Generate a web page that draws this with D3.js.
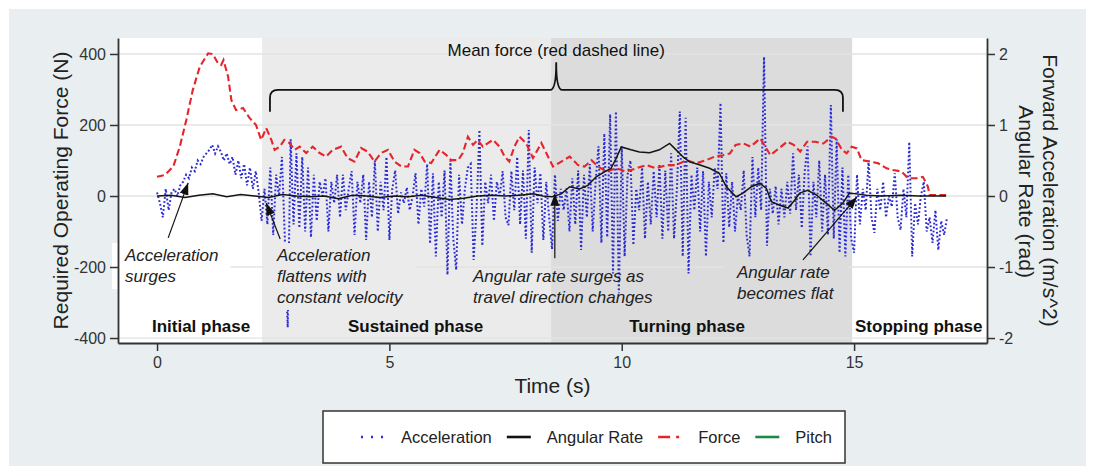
<!DOCTYPE html>
<html>
<head>
<meta charset="utf-8">
<script src="https://cdn.jsdelivr.net/npm/d3@7"></script>
<style>
  body { margin: 0; background: #fff; }
  svg { display: block; font-family: "Liberation Sans", Arial, sans-serif; }
</style>
</head>
<body>
<svg id="chart"></svg>
<script>
// ---- data ----
// forward acceleration (m/s^2), one sample every accelStep seconds from t = 0
const accelStep = 0.0625
const accel = [
    0.05, -0.1, -0.3, 0.1, -0.2, 0.05, 0.1, 0.0, 0.15, 0.2, 0.3, 0.25, 0.4, 0.35, 0.5, 0.45,
    0.55, 0.6, 0.65, 0.72, 0.6, 0.7, 0.62, 0.5, 0.6, 0.45, 0.55, 0.3, 0.5, 0.25, 0.45, 0.15,
    0.4, 0.1, 0.35, 0.05, -0.35, 0.1, -0.4, 0.4, -0.55, 0.3, 0.0, 0.55, -0.6, -1.85, 0.8, -0.4,
    0.6, -0.45, 0.55, -0.5, 0.4, -0.58, 0.3, -0.35, 0.2, 0.0, 0.25, -0.5, 0.2, -0.1, 0.3, -0.3,
    0.3, -0.2, 0.1, 0.35, -0.55, 0.2, -0.1, 0.3, -0.62, 0.2, -0.3, 0.5, -0.5, 0.2, -0.2, 0.55,
    -0.62, 0.1, 0.36, -0.25, 0.05, -0.1, 0.12, -0.2, 0.0, 0.32, -0.4, 0.1, -0.15, 0.45, -0.67, 0.32,
    -0.85, 0.2, -0.3, 0.36, -1.11, 0.5, -0.6, -1.04, 0.3, -0.4, 0.1, 0.4, 0.45, -0.9, -0.2, 0.93,
    -0.7, 0.2, -0.1, 0.3, -0.35, 0.2, 0.0, 0.35, -0.3, -0.41, 0.35, -0.2, 0.55, -0.4, 0.36, -0.6,
    0.93, -0.8, 0.4, -0.1, 0.32, -0.62, 0.2, -0.3, -0.75, 0.3, -0.35, 0.1, -0.2, 0.11, -0.5, 0.25,
    -0.4, 0.36, -0.76, 0.3, -0.3, 0.45, -0.5, 0.2, 0.7, -0.66, 0.88, -0.58, 1.15, -1.09, 1.19, -1.37,
    0.7, -0.85, 0.3, 0.5, -0.69, 0.1, -0.2, 0.4, -0.6, 0.2, -0.4, 0.35, -0.3, 0.45, -0.6, 0.36,
    -0.5, 0.6, -0.6, 0.1, 1.19, -0.85, 1.1, -1.09, 0.3, -0.2, 0.4, -0.5, 0.35, -0.85, 0.2, -0.3,
    0.4, 0.1, 1.31, -0.66, 0.32, -0.44, 0.2, -0.5, 0.0, -0.2, 0.36, -0.55, -0.85, 0.55, -0.3, 0.4,
    -0.2, 1.96, -0.7, 0.1, -0.25, 0.14, -0.4, 0.1, -0.3, 0.2, -0.25, 0.6, -0.2, 0.3, -0.45, 0.35,
    0.7, -0.85, 0.2, -0.3, 0.5, -0.5, 0.3, -0.55, 1.28, -0.6, 0.8, -0.8, 0.4, -0.85, 0.3, -0.6,
    -0.8, 0.3, -0.4, 0.1, -0.2, 0.5, -0.3, -0.52, 0.1, -0.2, 0.2, -0.3, 0.0, -0.15, 0.32, -0.3,
    -0.48, 0.1, -0.3, 0.76, -0.85, -0.1, -0.4, 0.0, 0.2, -0.5, -0.3, -0.66, -0.2, -0.76, -0.35, -0.55,
    -0.3
]

// angular rate (rad)
const angTime = [0, 0.3, 0.6, 0.9, 1.2, 1.5, 1.8, 2.1, 2.4, 2.7, 3.0, 3.3, 3.6, 3.9, 4.2, 4.5, 4.8, 5.1, 5.4, 5.7,
    6.0, 6.3, 6.6, 6.9, 7.2, 7.5, 7.8, 8.1, 8.3, 8.5, 8.7, 8.88, 9.09, 9.27, 9.45, 9.63, 9.77, 9.88, 9.99, 10.2,
    10.38, 10.6, 10.81, 11.03, 11.17, 11.32, 11.46, 11.67, 11.89, 12.1, 12.25, 12.46, 12.61, 12.79, 12.97, 13.11,
    13.22, 13.4, 13.58, 13.72, 13.83, 14.0, 14.2, 14.36, 14.58, 14.76, 14.9, 15.06, 15.26, 15.6, 16.0, 16.4, 16.98]
const angRate = [0, 0.01, -0.02, 0.01, 0.03, -0.01, 0.02, 0.0, -0.02, 0.02, 0.0, -0.01, 0.0, -0.04, 0.01, 0.0, -0.02, 0.0, -0.01, 0.01,
    -0.02, -0.05, -0.03, 0.0, 0.01, 0.0, 0.01, 0.03, 0.0, -0.01, 0.03, 0.13, 0.1, 0.15, 0.27, 0.34, 0.39, 0.53, 0.69, 0.65,
    0.62, 0.61, 0.65, 0.74, 0.65, 0.55, 0.48, 0.44, 0.39, 0.32, 0.13, -0.01, 0.04, 0.13, 0.18, 0.11,
    -0.08, -0.13, -0.17, -0.06, 0.04, 0.08, 0.01, -0.08, -0.2, -0.1, 0.04, 0.03, 0.01, 0.0, 0.01, 0.0, 0.0]

// required operating force (N)
const forceTime = [0, 0.17, 0.35, 0.49, 0.63, 0.77, 0.92, 1.1, 1.2, 1.31, 1.38, 1.43, 1.53, 1.6, 1.7, 1.85, 1.99, 2.13, 2.24, 2.35,
    2.46, 2.53, 2.64, 2.74, 2.85, 2.96, 3.07, 3.21, 3.35, 3.5, 3.64, 3.78, 3.96, 4.1, 4.25, 4.39, 4.53, 4.68, 4.82, 4.97,
    5.11, 5.26, 5.4, 5.54, 5.65, 5.76, 5.9, 6.08, 6.22, 6.33, 6.48, 6.58, 6.69, 6.8, 6.9, 7.01, 7.12, 7.23, 7.37, 7.48,
    7.58, 7.69, 7.8, 7.94, 8.09, 8.27, 8.52, 8.7, 8.88, 9.06, 9.2, 9.35, 9.49, 9.67, 9.88, 10.1, 10.31, 10.53, 10.74, 10.96,
    11.17, 11.39, 11.6, 11.82, 12.0, 12.18, 12.33, 12.45, 12.62, 12.77, 12.98, 13.2, 13.38, 13.56, 13.7, 13.84, 13.99, 14.16, 14.34, 14.52,
    14.6, 14.74, 14.84, 14.95, 15.06, 15.16, 15.34, 15.52, 15.7, 15.84, 16.02, 16.16, 16.34, 16.48, 16.59, 16.62, 16.98]
const forceN = [54, 59, 83, 139, 214, 299, 364, 402, 400, 374, 369, 383, 336, 270, 242, 248, 220, 200, 158, 191,
    158, 130, 139, 158, 149, 130, 139, 121, 139, 121, 111, 130, 139, 107, 97, 135, 125, 97, 121, 130,
    97, 83, 83, 130, 121, 97, 93, 130, 116, 101, 101, 121, 167, 144, 158, 139, 149, 158, 139, 111,
    97, 139, 167, 149, 107, 149, 83, 97, 111, 87, 83, 101, 83, 69, 78, 69, 78, 87, 78, 87,
    87, 101, 92, 101, 111, 115, 120, 144, 148, 139, 162, 115, 134, 153, 144, 125, 153, 153, 148, 167,
    162, 130, 120, 139, 134, 101, 97, 92, 78, 73, 69, 50, 50, 54, 26, 3, 3]

const phaseNames = ['Initial phase', 'Sustained phase', 'Turning phase', 'Stopping phase']
const phaseEdges = [-0.84, 2.26, 8.48, 14.96, 17.86]   // seconds
const phaseLabelStart = [-0.11, 4.11, 10.16, 15.02]    // seconds

const xTicks = [0, 5, 10, 15]
const leftTicks = [-400, -200, 0, 200, 400]
const rightTicks = [-2, -1, 0, 1, 2]
const legendNames = ['Acceleration', 'Angular Rate', 'Force', 'Pitch']

// annotations, in data units (s, N)
const notes = [
    {lines: ['Acceleration', 'surges'], t: -0.69, n: -183, from: [0.24, -118], to: [0.67, 37], box: true},
    {lines: ['Acceleration', 'flattens with', 'constant velocity'], t: 2.58, n: -183, from: [2.65, -121], to: [2.35, -20], box: true},
    {lines: ['Angular rate surges as', 'travel direction changes'], t: 6.8, n: -242, from: [8.56, -175], to: [8.56, 6], box: false},
    {lines: ['Angular rate', 'becomes flat'], t: 12.48, n: -231, from: [13.9, -180], to: [15.06, -3], box: true}
]

// ---- drawing ----
const W = 1093, H = 466
const plot = {left: 118, right: 987, top: 38, bottom: 343}
const phaseFill = ['#ffffff', '#ebebeb', '#dcdcdc', '#ffffff']
const ink = '#333'

const svg = d3.select('#chart').attr('width', W).attr('height', H)

svg.append('rect')
    .attr('x', 9).attr('y', 9)
    .attr('width', 1077).attr('height', H - 9)
    .attr('fill', '#e9eff1')

const x = d3.scaleLinear().domain([-0.84, 17.86]).range([plot.left, plot.right])
const yL = d3.scaleLinear().domain([-414, 445]).range([plot.bottom, plot.top])
const yR = d3.scaleLinear().domain([-2.07, 2.225]).range([plot.bottom, plot.top])

// phase shading
svg.append('g').selectAll('rect')
    .data(phaseNames)
    .join('rect')
    .attr('x', (d, i) => x(phaseEdges[i]))
    .attr('width', (d, i) => x(phaseEdges[i + 1]) - x(phaseEdges[i]))
    .attr('y', plot.top)
    .attr('height', plot.bottom - plot.top)
    .attr('fill', (d, i) => phaseFill[i])

// grid
svg.append('g').selectAll('line')
    .data(leftTicks)
    .join('line')
    .attr('x1', plot.left).attr('x2', plot.right)
    .attr('y1', d => yL(d)).attr('y2', d => yL(d))
    .attr('stroke', '#e2e4e4')
    .attr('stroke-width', 1.3)

// series
const accelPts = accel.map((v, i) => [i * accelStep, v])
svg.append('path')
    .datum(accelPts)
    .attr('fill', 'none')
    .attr('stroke', '#2b2bd6')
    .attr('stroke-width', 2)
    .attr('stroke-dasharray', '1.8,2.2')
    .attr('d', d3.line().x(d => x(d[0])).y(d => yR(d[1])))

svg.append('path')
    .datum(forceTime.map((t, i) => [t, forceN[i]]))
    .attr('fill', 'none')
    .attr('stroke', '#e5242b')
    .attr('stroke-width', 2.1)
    .attr('stroke-dasharray', '7,3.5')
    .attr('d', d3.line().x(d => x(d[0])).y(d => yL(d[1])))

svg.append('path')
    .datum(angTime.map((t, i) => [t, angRate[i]]))
    .attr('fill', 'none')
    .attr('stroke', '#151515')
    .attr('stroke-width', 1.5)
    .attr('d', d3.line().x(d => x(d[0])).y(d => yR(d[1])))

// arrow head
svg.append('defs').append('marker')
    .attr('id', 'head')
    .attr('viewBox', '0 0 12 9')
    .attr('markerWidth', 12).attr('markerHeight', 9)
    .attr('markerUnits', 'userSpaceOnUse')
    .attr('refX', 12).attr('refY', 4.5)
    .attr('orient', 'auto')
    .append('path').attr('d', 'M0,0 L12,4.5 L0,9 Z').attr('fill', '#111')

const phaseAt = t => phaseEdges.findIndex((e, i) => t >= e && t < phaseEdges[i + 1])

notes.forEach(nt => {
    const g = svg.append('g')
    const txt = g.append('text')
        .attr('x', x(nt.t)).attr('y', yL(nt.n))
        .attr('font-size', 17).attr('font-style', 'italic')
        .attr('fill', '#222')
    nt.lines.forEach((l, i) => {
        txt.append('tspan').attr('x', x(nt.t)).attr('dy', i === 0 ? 0 : 21).text(l)
    })
    if (nt.box) {
        const bb = txt.node().getBBox()
        g.insert('rect', 'text')
            .attr('x', bb.x - 12).attr('y', bb.y - 3)
            .attr('width', bb.width + 24).attr('height', bb.height + 6)
            .attr('fill', phaseFill[phaseAt(nt.t)])
    }
    svg.append('line')
        .attr('x1', x(nt.from[0])).attr('y1', yL(nt.from[1]))
        .attr('x2', x(nt.to[0])).attr('y2', yL(nt.to[1]))
        .attr('stroke', '#111').attr('stroke-width', 1.2)
        .attr('marker-end', 'url(#head)')
})

// brace over the mean-force stretch
const bx0 = x(2.43), bx1 = x(14.76), bm = x(8.59)
const by = yL(299), byEnd = yL(237), byPeak = yL(377)
svg.append('path')
    .attr('d', `M${bx0},${byEnd} L${bx0},${by + 8} Q${bx0},${by} ${bx0 + 8},${by} L${bm - 6},${by} ` +
        `Q${bm},${by} ${bm},${byPeak} Q${bm},${by} ${bm + 6},${by} L${bx1 - 8},${by} ` +
        `Q${bx1},${by} ${bx1},${by + 8} L${bx1},${byEnd}`)
    .attr('fill', 'none')
    .attr('stroke', '#111')
    .attr('stroke-width', 1.8)

svg.append('text')
    .attr('x', bm).attr('y', yL(394))
    .attr('text-anchor', 'middle')
    .attr('font-size', 17)
    .attr('fill', '#111')
    .text('Mean force (red dashed line)')

// phase labels
svg.append('g').selectAll('text')
    .data(phaseNames)
    .join('text')
    .attr('x', (d, i) => x(phaseLabelStart[i]))
    .attr('y', yL(-383))
    .attr('font-size', 17)
    .attr('font-weight', 'bold')
    .attr('fill', '#111')
    .text(d => d)

// axes
const styleAxis = g => {
    g.select('.domain').attr('stroke', ink).attr('stroke-width', 1.8)
    g.selectAll('.tick line').attr('stroke', ink).attr('stroke-width', 1.5)
    g.selectAll('.tick text').attr('font-size', 16).attr('fill', ink)
        .attr('font-family', '"Liberation Sans", Arial, sans-serif')
}

svg.append('g')
    .attr('transform', `translate(${plot.left},0)`)
    .call(d3.axisLeft(yL).tickValues(leftTicks).tickFormat(d => String(d))
        .tickSize(8).tickSizeOuter(0).tickPadding(4))
    .call(styleAxis)

svg.append('g')
    .attr('transform', `translate(${plot.right},0)`)
    .call(d3.axisRight(yR).tickValues(rightTicks).tickFormat(d => String(d))
        .tickSize(8).tickSizeOuter(0).tickPadding(4))
    .call(styleAxis)

svg.append('g')
    .attr('transform', `translate(0,${plot.bottom})`)
    .call(d3.axisBottom(x).tickValues(xTicks).tickFormat(d => String(d))
        .tickSize(8).tickSizeOuter(0).tickPadding(6))
    .call(styleAxis)

// axis titles
const midY = (plot.top + plot.bottom) / 2
svg.append('text')
    .attr('transform', `translate(68,${midY}) rotate(-90)`)
    .attr('text-anchor', 'middle').attr('font-size', 21).attr('fill', '#222')
    .text('Required Operating Force (N)')
svg.append('text')
    .attr('transform', `translate(1019,${midY + 1}) rotate(90)`)
    .attr('text-anchor', 'middle').attr('font-size', 21).attr('fill', '#222')
    .text('Angular Rate (rad)')
svg.append('text')
    .attr('transform', `translate(1043,${midY}) rotate(90)`)
    .attr('text-anchor', 'middle').attr('font-size', 21).attr('fill', '#222')
    .text('Forward Acceleration (m/s^2)')
svg.append('text')
    .attr('x', (plot.left + plot.right) / 2).attr('y', 393)
    .attr('text-anchor', 'middle').attr('font-size', 21).attr('fill', '#222')
    .text('Time (s)')

// legend
const legend = svg.append('g')
legend.append('rect')
    .attr('x', 323).attr('y', 411).attr('width', 522).attr('height', 52)
    .attr('fill', '#fff').attr('stroke', ink).attr('stroke-width', 1.5)

const swatch = [
    {stroke: '#2b2bd6', dash: '2,8', w: 2.4},
    {stroke: '#111', dash: null, w: 2.6},
    {stroke: '#e5242b', dash: '12,6,3,40', w: 2.6},
    {stroke: '#1b8a45', dash: null, w: 2.6}
]
let lx = 361
const ly = 437
legendNames.forEach((name, i) => {
    const s = swatch[i]
    legend.append('line')
        .attr('x1', lx).attr('x2', lx + 24).attr('y1', ly).attr('y2', ly)
        .attr('stroke', s.stroke).attr('stroke-width', s.w)
        .attr('stroke-dasharray', s.dash)
    const t = legend.append('text')
        .attr('x', lx + 40).attr('y', ly).attr('dy', '0.35em')
        .attr('font-size', 16.5).attr('fill', '#222')
        .text(name)
    lx = lx + 40 + t.node().getComputedTextLength() + 15
})
</script>
</body>
</html>
